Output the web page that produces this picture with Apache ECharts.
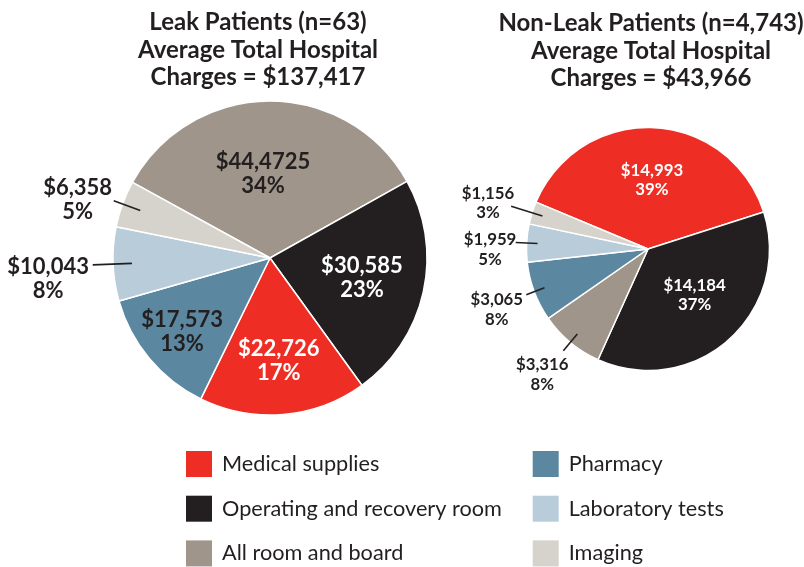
<!DOCTYPE html>
<html>
<head>
<meta charset="utf-8">
<script src="https://cdn.jsdelivr.net/npm/echarts@6/dist/echarts.min.js"></script>
<style>
  html, body { margin: 0; padding: 0; background: #ffffff; }
  #chart { width: 804px; height: 567px; }
</style>
</head>
<body>
<div id="chart"></div>
<script>
// ---------------- data ----------------
const categories = ['Medical supplies', 'Operating and recovery room', 'All room and board', 'Pharmacy', 'Laboratory tests', 'Imaging'];

const leakTitle = ['Leak Patients (n=63)', 'Average Total Hospital', 'Charges = $137,417'];
const leakValues = [22726, 30585, 44725, 17573, 10043, 6358];
const leakAmountLabels = ['$22,726', '$30,585', '$44,4725', '$17,573', '$10,043', '$6,358'];
const leakPctLabels = ['17%', '23%', '34%', '13%', '8%', '5%'];

const nonLeakTitle = ['Non-Leak Patients (n=4,743)', 'Average Total Hospital', 'Charges = $43,966'];
const nonLeakValues = [14993, 14184, 3316, 3065, 1959, 1156];
const nonLeakAmountLabels = ['$14,993', '$14,184', '$3,316', '$3,065', '$1,959', '$1,156'];
const nonLeakPctLabels = ['39%', '37%', '8%', '8%', '5%', '3%'];

// clockwise slice order (category indices)
const leakOrder = [2, 1, 0, 3, 4, 5];
const nonLeakOrder = [0, 1, 2, 3, 4, 5];

// ---------------- style ----------------
const COLORS = ['#EE2E24', '#231F20', '#A0958A', '#5B87A0', '#B9CCDA', '#D6D2CC'];
const LABEL_COLORS = ['#ffffff', '#ffffff', '#231F20', '#231F20', '#231F20', '#231F20'];
const FONT = 'Lato, "Open Sans", sans-serif';
const TEXT = '#231F20';

const GEOM = [
  { cx: 270, cy: 258, r: 157, start: 151.2, font: 22, lh: 24, lineIn: 0.88 },
  { cx: 648, cy: 249, r: 121.5, start: 157.3, font: 16.8, lh: 19.5, lineIn: 0.91 }
];
// per category: f = label radius factor, a = angular shift (deg), l = leader line outer radius factor
const PLACE = [
  [ {f: 0.66, a: 0}, {f: 0.60, a: 0}, {f: 0.537, a: -4.6}, {f: 0.73, a: 0},
    {f: 1.42, a: -3.2, l: 1.13}, {f: 1.28, a: -3.3, l: 1.06} ],
  [ {f: 0.57, a: 0.8}, {f: 0.54, a: -3.5}, {f: 1.35, a: 0.4, l: 1.09},
    {f: 1.34, a: -1.2, l: 1.07}, {f: 1.30, a: -3.1, l: 1.09}, {f: 1.37, a: -1.3, l: 1.18} ]
];

let chart;

function buildData(values, amounts, pcts, order, si) {
  return order.map(function (ci) {
    const outside = !!PLACE[si][ci].l;
    return {
      name: categories[ci],
      value: values[ci],
      itemStyle: { color: COLORS[ci] },
      label: {
        position: outside ? 'outside' : 'inside',
        color: outside ? TEXT : LABEL_COLORS[ci],
        formatter: amounts[ci] + '\n' + pcts[ci]
      },
      labelLine: { show: false }
    };
  });
}

// leader-line helper pie: same values, transparent sectors, radial label lines only
function buildLineData(values, order, si) {
  const g = GEOM[si];
  return order.map(function (ci) {
    const pl = PLACE[si][ci];
    const outside = !!pl.l;
    return {
      name: categories[ci],
      value: values[ci],
      label: { show: outside },
      labelLine: { show: outside, length: outside ? (pl.l - g.lineIn) * g.r : 0 }
    };
  });
}

function makeLayout(si, order) {
  return function (p) {
    const pl = PLACE[si][order[p.dataIndex]];
    const lay = chart.getModel().getSeriesByIndex(p.seriesIndex).getData().getItemLayout(p.dataIndex);
    const base = (lay.startAngle + lay.endAngle) / 2;
    const a = base + pl.a * Math.PI / 180;
    return {
      x: lay.cx + pl.f * lay.r * Math.cos(a),
      y: lay.cy + pl.f * lay.r * Math.sin(a),
      align: 'center',
      verticalAlign: 'middle'
    };
  };
}

function makeSeries(si, name, values, amounts, pcts, order) {
  const g = GEOM[si];
  return {
    type: 'pie',
    name: name,
    center: [g.cx, g.cy],
    radius: g.r,
    startAngle: g.start,
    clockwise: true,
    avoidLabelOverlap: false,
    animation: false,
    emphasis: { disabled: true },
    itemStyle: { borderColor: '#ffffff', borderWidth: 1.5 },
    label: {
      show: true,
      fontFamily: FONT,
      fontWeight: 'bold',
      fontSize: g.font,
      lineHeight: g.lh,
      align: 'center'
    },
    labelLayout: makeLayout(si, order),
    data: buildData(values, amounts, pcts, order, si)
  };
}

function makeLineSeries(si, name, values, order) {
  const g = GEOM[si];
  return {
    type: 'pie',
    name: name + ' leaders',
    center: [g.cx, g.cy],
    radius: g.r * g.lineIn,
    startAngle: g.start,
    clockwise: true,
    avoidLabelOverlap: false,
    animation: false,
    silent: true,
    legendHoverLink: false,
    emphasis: { disabled: true },
    z: 3,
    itemStyle: { color: 'rgba(0,0,0,0)', borderWidth: 0 },
    label: { show: true, position: 'outside', formatter: ' ', fontSize: 1, color: 'rgba(0,0,0,0)' },
    labelLine: { show: true, length2: 0, smooth: false, lineStyle: { color: TEXT, width: 1.6 } },
    data: buildLineData(values, order, si)
  };
}

chart = echarts.init(document.getElementById('chart'), null, { renderer: 'canvas' });

const titleStyle = { fontFamily: FONT, fontWeight: 'bold', fontSize: 24, lineHeight: 27.5, color: TEXT };
const legendText = { fontFamily: FONT, fontSize: 21.7, color: TEXT, padding: [0, 0, 0, 5] };

chart.setOption({
  backgroundColor: '#ffffff',
  title: [
    { text: leakTitle.join('\n'), left: 258, top: 9, textAlign: 'center', padding: 0, textStyle: titleStyle },
    { text: nonLeakTitle.join('\n'), left: 651, top: 10, textAlign: 'center', padding: 0, textStyle: titleStyle }
  ],
  legend: [
    {
      orient: 'vertical', left: 186, top: 451, padding: 0,
      icon: 'rect', itemWidth: 26, itemHeight: 26, itemGap: 18.7,
      itemStyle: { borderWidth: 0 },
      textStyle: legendText,
      data: categories.slice(0, 3)
    },
    {
      orient: 'vertical', left: 532.7, top: 451, padding: 0,
      icon: 'rect', itemWidth: 26, itemHeight: 26, itemGap: 18.7,
      itemStyle: { borderWidth: 0 },
      textStyle: legendText,
      data: categories.slice(3, 6)
    }
  ],
  series: [
    makeSeries(0, 'Leak Patients', leakValues, leakAmountLabels, leakPctLabels, leakOrder),
    makeSeries(1, 'Non-Leak Patients', nonLeakValues, nonLeakAmountLabels, nonLeakPctLabels, nonLeakOrder),
    makeLineSeries(0, 'Leak Patients', leakValues, leakOrder),
    makeLineSeries(1, 'Non-Leak Patients', nonLeakValues, nonLeakOrder)
  ]
});
</script>
</body>
</html>
